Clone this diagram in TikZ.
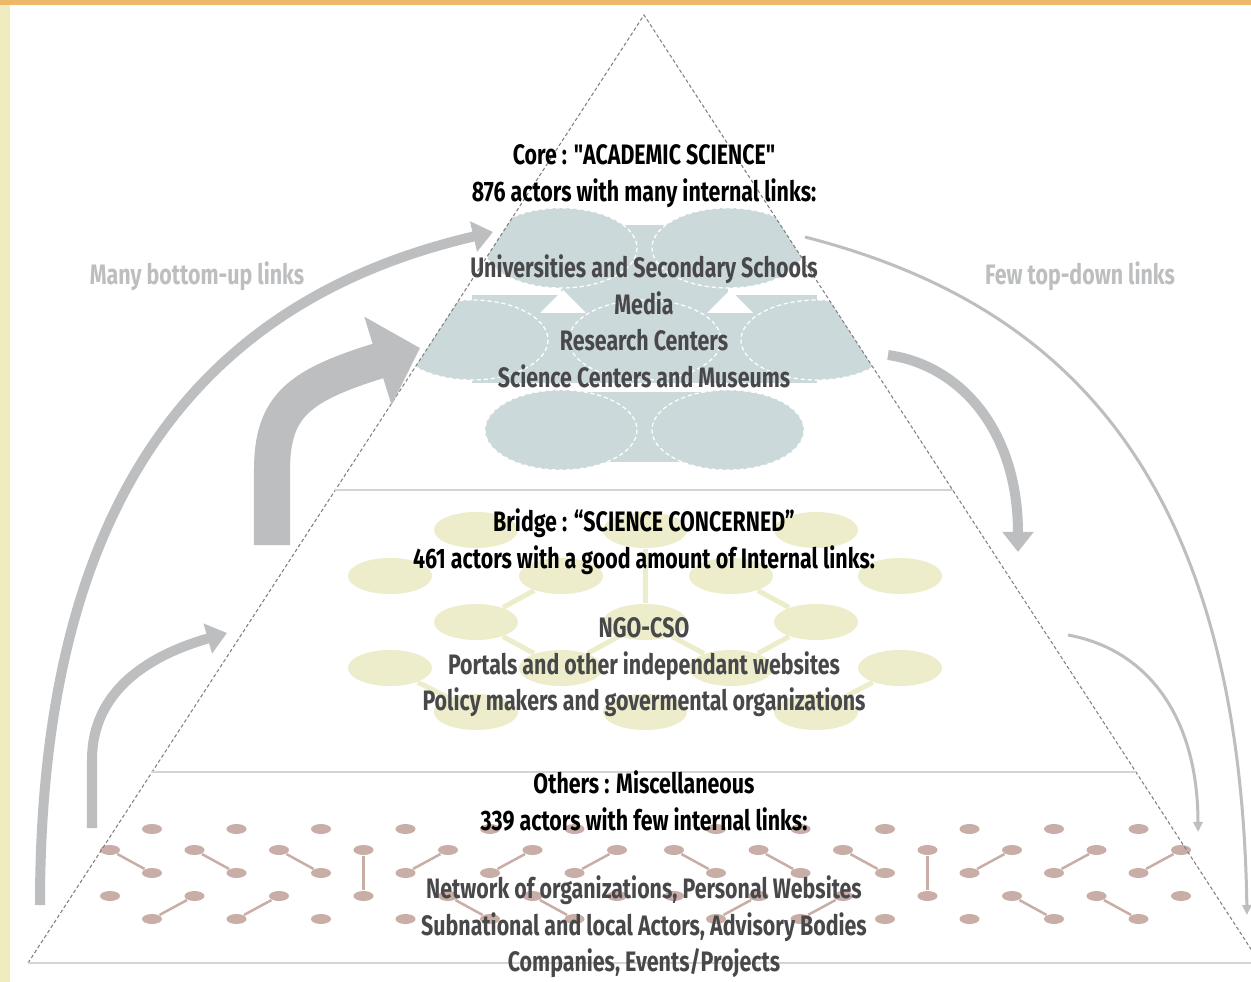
\documentclass[tikz,border=0pt]{standalone}
\usepackage{fontspec}
\setmainfont{Fira Sans}[FakeStretch=0.76]
\usetikzlibrary{arrows.meta,calc,shapes.geometric}

\definecolor{arrowgray}{HTML}{BCBEC0}
\definecolor{corefill}{HTML}{CCD9DA}
\definecolor{bridgefill}{HTML}{EDEDCC}
\definecolor{dotfill}{HTML}{C9AEA7}
\definecolor{topbar}{HTML}{EDB867}
\definecolor{sidebar}{HTML}{F0ECBF}
\definecolor{bodytext}{HTML}{48484A}
\definecolor{linegray}{HTML}{D4D4D4}

\newcommand{\straightq}{{\addfontfeatures{Ligatures=TeXOff}"}}

\tikzset{
  headtext/.style={font=\fontsize{8}{10.4}\selectfont\bfseries, text=black, align=center, inner sep=0pt},
  listtext/.style={font=\fontsize{8}{10.4}\selectfont\bfseries, text=bodytext, align=center, inner sep=0pt},
  sidelabel/.style={font=\fontsize{8}{10.4}\selectfont\bfseries, text=arrowgray, inner sep=0pt},
  corecell/.style={fill=corefill, draw=white, dash pattern=on 1.2pt off 0.8pt, line width=0.35pt},
  bridgecell/.style={ellipse, fill=bridgefill, minimum width=0.84cm, minimum height=0.36cm, inner sep=0pt},
  bridgelink/.style={draw=bridgefill, line width=0.05cm},
  actordot/.style={ellipse, fill=dotfill, minimum width=0.2cm, minimum height=0.1cm, inner sep=0pt},
  dotlink/.style={draw=dotfill, line width=0.025cm},
  thickflow/.style={draw=arrowgray, line width=0.36cm, -{Triangle[length=0.44cm, width=0.9cm]}},
  flow/.style={draw=arrowgray, line width=0.1cm, -{Triangle[length=0.2cm, width=0.3cm]}},
  thinflow/.style={draw=arrowgray, line width=0.03cm, -{Triangle[length=0.1cm, width=0.09cm]}},
  pyredge/.style={draw=gray, line width=0.3pt, dash pattern=on 1pt off 0.7pt},
  divider/.style={draw=linegray, line width=0.015cm},
}

\begin{document}
\begin{tikzpicture}[x=0.01cm, y=-0.01cm]

\useasboundingbox (0,0) rectangle (1251,982);
\fill[white] (0,0) rectangle (1251,982);
\fill[sidebar] (0,0) rectangle (10,982);
\fill[topbar] (0,0) rectangle (1251,5);

\coordinate (apex) at (644,15);
\coordinate (botl) at (28,963);
\coordinate (botr) at (1260,963);

% core cells
\begin{scope}
\clip (apex) -- (botl) -- (botr) -- cycle;
\fill[corefill] (561,225) rectangle (728,300);
\fill[corefill] (472,295) rectangle (817,383);
\fill[corefill] (561,392) rectangle (728,462);
\fill[white] (540,313) -- (563,290) -- (586,313) -- cycle;
\fill[white] (707,313) -- (730,290) -- (753,313) -- cycle;
\foreach \x/\y in {561/248,728/248,472/340,645/340,817/340,561/430,728/430}
{
    \draw[corecell] (\x,\y) ellipse (76 and 40);
}
\end{scope}

% bridge network
\foreach \n/\x/\y in {A1/476/530, A2/645/530, A3/816/530,
    B1/390/576, B2/561/576, B3/731/576, B4/900/576,
    C1/476/622, C2/645/622, C3/816/622,
    D1/390/668, D2/561/668, D3/731/668, D4/900/668,
    E1/476/712, E2/645/712, E3/816/712}
{
    \node[bridgecell] (br\n) at (\x,\y) {};
}
\draw[bridgelink] (brB2) -- (brC1);
\draw[bridgelink] (brA2) -- (brC2);
\draw[bridgelink] (brB3) -- (brC3);
\draw[bridgelink] (brC1) -- (brD2);
\draw[bridgelink] (brC3) -- (brD3);
\draw[bridgelink] (brC2) -- (brD2);
\draw[bridgelink] (brC2) -- (brD3);
\draw[bridgelink] (brD1) -- (brE1);
\draw[bridgelink] (brD4) -- (brE3);

% others: two copies of the dot pattern
\foreach \h in {0,1}
{
    \foreach \k in {0,...,5}
        \foreach \r/\y in {1/829,3/873,5/919}
            \node[actordot] (dot\r\h\k) at ({152+84.5*\k+564*\h},\y) {};
    \foreach \k in {0,...,6}
        \foreach \r/\y in {2/850,4/896}
            \node[actordot] (dot\r\h\k) at ({110+84.5*\k+564*\h},\y) {};

    \draw[dotlink] (dot2\h0) -- (dot3\h0);
    \draw[dotlink] (dot2\h1) -- (dot3\h1);
    \draw[dotlink] (dot2\h2) -- (dot3\h2);
    \draw[dotlink] (dot2\h3) -- (dot4\h3);
    \draw[dotlink] (dot3\h3) -- (dot2\h4);
    \draw[dotlink] (dot3\h4) -- (dot2\h5);
    \draw[dotlink] (dot3\h5) -- (dot2\h6);
    \draw[dotlink] (dot5\h0) -- (dot4\h1);
    \draw[dotlink] (dot5\h1) -- (dot4\h2);
    \draw[dotlink] (dot4\h4) -- (dot5\h4);
    \draw[dotlink] (dot4\h5) -- (dot5\h5);
}

% pyramid
\draw[pyredge] (botl) -- (apex) -- (botr);
\draw[divider] (botl) -- (1251,963);
\draw[divider] ($(apex)!0.501!(botl)$) -- ($(apex)!0.501!(botr)$);
\draw[divider] ($(apex)!0.7985!(botl)$) -- ($(apex)!0.7985!(botr)$);

% bottom-up links
\coordinate (upbig-s) at (272,545);
\coordinate (upbig-e) at (420,348);
\coordinate (upout-s) at (40,905);
\coordinate (upout-e) at (493,232);
\coordinate (upsmall-s) at (92,828);
\coordinate (upsmall-e) at (227,633);
\draw[thickflow] (upbig-s) -- (272,470) .. controls (272,405) and (300,385) .. (upbig-e);
\draw[flow] (upout-s) .. controls (40,500) and (200,300) .. (upout-e);
\draw[flow] (upsmall-s) -- (92,760) .. controls (92,690) and (150,655) .. (upsmall-e);

% top-down links
\coordinate (dnmid-s) at (888,355);
\coordinate (dnmid-e) at (1018,552);
\coordinate (dnout-s) at (805,237);
\coordinate (dnout-e) at (1247,915);
\coordinate (dnsmall-s) at (1068,635);
\coordinate (dnsmall-e) at (1198,832);
\draw[flow] (dnmid-s) .. controls (960,365) and (1018,430) .. (dnmid-e);
\draw[thinflow] (dnout-s) .. controls (1050,300) and (1240,460) .. (dnout-e);
\draw[thinflow] (dnsmall-s) .. controls (1150,650) and (1198,720) .. (dnsmall-e);

\node[sidelabel] (manyup) at (197,276) {Many bottom-up links};
\node[sidelabel] (fewdown) at (1080,276) {Few top-down links};

% texts
\node[headtext] (corehead) at (644,176) {Core : \straightq ACADEMIC SCIENCE\straightq\\876 actors with many internal links:};
\node[listtext] (corelist) at (644,321.5) {Universities and Secondary Schools\\Media\\Research Centers\\Science Centers and Museums};
\node[headtext] (bridgehead) at (644,541.5) {Bridge : “SCIENCE CONCERNED”\\461 actors with a good amount of Internal links:};
\node[listtext] (bridgelist) at (644,667.5) {NGO-CSO\\Portals and other independant websites\\Policy makers and govermental organizations};
\node[headtext] (otherhead) at (644,801) {Others : Miscellaneous\\339 actors with few internal links:};
\node[listtext] (otherlist) at (644,927) {Network of organizations, Personal Websites\\Subnational and local Actors, Advisory Bodies\\Companies, Events/Projects};

\end{tikzpicture}
\end{document}
